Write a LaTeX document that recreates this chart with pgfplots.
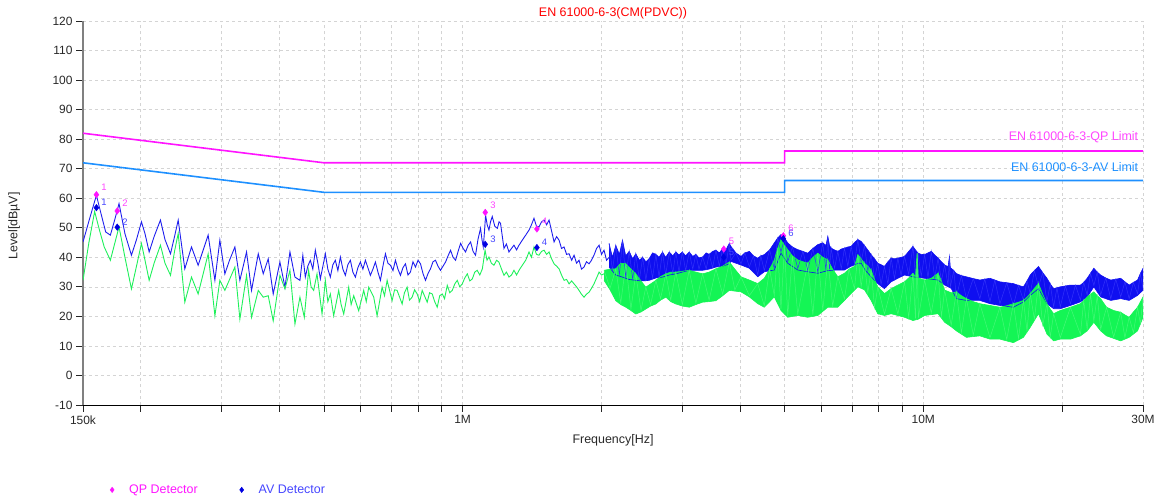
\documentclass[border=0pt]{standalone}
\usepackage{fontspec}
\setmainfont{Liberation Sans}
\usepackage{pgfplots}
\pgfplotsset{compat=1.18}
\usepgfplotslibrary{fillbetween}
\definecolor{qpc}{RGB}{255,20,255}
\definecolor{qpt}{RGB}{255,70,255}
\definecolor{avl}{RGB}{30,144,255}
\definecolor{trb}{RGB}{30,30,238}
\definecolor{trbf}{RGB}{15,15,240}
\definecolor{trbd}{RGB}{50,50,250}
\definecolor{avm}{RGB}{0,0,225}
\definecolor{avt}{RGB}{70,70,255}
\definecolor{trg}{RGB}{30,240,90}
\definecolor{trgf}{RGB}{20,245,85}
\definecolor{trgd}{RGB}{70,248,120}
\definecolor{gridc}{RGB}{212,212,212}
\definecolor{titr}{RGB}{255,0,0}
\definecolor{tl}{RGB}{40,40,40}
\begin{document}
\begin{tikzpicture}
\begin{axis}[
  at={(83bp,94bp)}, anchor=south west,
  scale only axis, width=1060bp, height=384bp,
  xmode=log, xmin=150000, xmax=30000000, ymin=-10, ymax=120,
  axis lines=left,
  x axis line style={-, black, line width=0.8bp},
  y axis line style={-, gray, line width=1.3bp},
  xtick={150000,1000000,10000000,30000000},
  xticklabels={150k,1M,10M,30M},
  minor xtick={200000,300000,400000,500000,600000,700000,800000,900000,2000000,3000000,4000000,5000000,6000000,7000000,8000000,9000000,20000000},
  ytick={-10,0,10,20,30,40,50,60,70,80,90,100,110,120},
  yticklabels={-10,0,10,20,30,40,50,60,70,80,90,100,110,120},
  grid=both,
  major grid style={gridc, dashed, line width=0.6bp},
  minor grid style={gridc, dashed, line width=0.6bp},
  tick align=outside,
  major tick length=7bp, minor tick length=7bp,
  tick style={black!85, line width=0.7bp},
  ticklabel style={font=\fontsize{12}{14}\selectfont, text=tl},
  /pgf/number format/assume math mode=true,
  title={EN 61000-6-3(CM(PDVC))},
  title style={at={(axis description cs:0.5,0.996)}, anchor=base, font=\fontsize{12.5}{14}\selectfont, text=titr},
  xlabel={Frequency[Hz]},
  xlabel style={at={(axis description cs:0.5,-0.099)}, anchor=base, font=\fontsize{12.5}{14}\selectfont, text=tl},
  ylabel={Level[dBµV]},
  ylabel style={at={(axis description cs:-0.065,0.466)}, anchor=center, font=\fontsize{12.5}{14}\selectfont, text=tl},
  legend style={at={(axis description cs:0.0226,-0.221)}, anchor=west, draw=none, fill=none,
     font=\fontsize{12.5}{14}\selectfont, legend columns=2,
     /tikz/every odd column/.append style={column sep=13bp},
     /tikz/every even column/.append style={column sep=40bp}},
  legend image post style={mark size=2.7bp},
  clip=true,
]
% limit lines
\addplot[qpc, line width=1.6bp, forget plot] coordinates {(150000,82) (500000,72) (5000000,72) (5000000,76) (30000000,76)};
\addplot[avl, line width=1.6bp, forget plot] coordinates {(150000,72) (500000,62) (5000000,62) (5000000,66) (30000000,66)};
\node[anchor=east, text=qpt, font=\fontsize{12.5}{14}\selectfont] at (axis cs:29800000,80.6) {EN 61000-6-3-QP Limit};
\node[anchor=east, text=avl, font=\fontsize{12.5}{14}\selectfont] at (axis cs:29800000,70.7) {EN 61000-6-3-AV Limit};

% blue dense band
\addplot[name path=bu, trbf, line width=0.6bp, forget plot] coordinates {
(2080000,44.7)(2115000,40)(2151000,44)(2190000,41)(2224000,45.8)(2260000,40.5)(2300000,42)(2340000,39.5)(2377000,41.2)(2420000,39)(2460000,40)(2500000,38.5)(2541000,39.5)(2585000,41.5)(2628000,41)(2670000,40)(2717000,41.8)(2760000,40)(2810000,41.8)(2860000,40.5)(2904000,41.8)(2950000,40.8)(3000000,41.8)(3050000,40.5)(3105000,41.8)(3160000,40.3)(3210000,41)(3260000,39.8)(3320000,40.1)(3380000,41.5)(3430000,41)(3490000,42)(3548000,42.4)(3610000,41.5)(3670000,43)(3730000,42.5)(3793000,44.7)(3825000,43.7)(3920000,41.5)(4022000,40.3)(4100000,41.5)(4193000,42)(4280000,40.5)(4373000,39.7)(4440000,40.5)(4518000,40.9)(4640000,42.5)(4750000,44.9)(4830000,46.5)(4911000,47.7)(5000000,46.5)(5079000,44.9)(5200000,43.5)(5340000,42.6)(5480000,42)(5614000,41.4)(5760000,43)(5904000,44.3)(6053000,44.9)(6150000,44)(6207000,47.1)(6260000,44)(6311000,43.1)(6420000,42.5)(6525000,42)(6640000,42.8)(6744000,43.1)(6860000,43.5)(6975000,43.7)(7092000,45)(7212000,46)(7332000,45.4)(7454000,44)(7580000,42.5)(7709000,40.9)(7840000,39.5)(7970000,38)(8100000,37.5)(8238000,36.9)(8380000,38.5)(8518000,39.7)(8660000,39.5)(8810000,39.7)(8950000,40)(9107000,40.3)(9300000,42)(9498000,43.7)(9620000,42.5)(9740000,41.4)(9900000,41)(10070000,40.9)(10240000,41.5)(10410000,42)(10590000,40.8)(10770000,39.7)(10950000,38.5)(11130000,37.4)(11320000,36.8)(11400000,40.3)(11450000,36.5)(11650000,35.5)(11800000,34.5)(12100000,33.8)(12410000,33.4)(12840000,32.8)(13270000,32.3)(13600000,32.6)(13960000,32.9)(14300000,32.3)(14670000,31.7)(15180000,31.4)(15690000,31.1)(16100000,30.5)(16500000,30)(16800000,32)(17070000,34)(17430000,35.5)(17790000,36.9)(18170000,34.8)(18560000,32.9)(18870000,31)(19190000,29.4)(19510000,29.7)(19840000,30)(20350000,30.3)(20870000,30.6)(21400000,30.6)(21940000,30.6)(22300000,31.5)(22690000,32.9)(23070000,34.6)(23460000,36.3)(23860000,35)(24270000,34)(24900000,33)(25530000,32.3)(26180000,32.6)(26830000,32.9)(27400000,31.7)(27990000,30.6)(28590000,31.5)(29190000,32.3)(29600000,34.5)(30000000,36.3)};
\addplot[name path=bl, trbf, line width=0.6bp, forget plot] coordinates {
(2080000,36.7)(2151000,34)(2224000,33.3)(2300000,32.5)(2377000,32.2)(2460000,32)(2541000,32.2)(2628000,33)(2717000,33.3)(2810000,34)(2904000,34.4)(3000000,35)(3105000,35.6)(3210000,35.6)(3320000,35.6)(3430000,36)(3548000,36.7)(3670000,37)(3793000,37.8)(3825000,38.6)(4022000,37.4)(4193000,36.3)(4373000,33.4)(4518000,35.1)(4750000,35.7)(4911000,41.4)(5079000,38)(5340000,35.7)(5614000,35.1)(5904000,34.6)(6207000,35.5)(6525000,35.7)(6744000,35.7)(6975000,37)(7092000,37.4)(7212000,38)(7332000,38)(7500000,35.5)(7709000,33.4)(7970000,31.1)(8238000,29.4)(8518000,31.7)(8810000,32.9)(9107000,34)(9498000,33.4)(9740000,33.2)(10070000,32.9)(10410000,32.6)(10770000,32.3)(11130000,30.6)(11500000,29.5)(11800000,26)(12410000,25.4)(13270000,25.4)(13960000,24.3)(14670000,23.7)(15690000,23.1)(16500000,24.9)(17070000,27.1)(17790000,29.4)(18560000,24.3)(19190000,22.6)(19840000,22.6)(20870000,23.7)(21940000,24.9)(22690000,26.6)(23460000,30)(24270000,26.6)(25530000,25.4)(26830000,26)(27990000,25.4)(29190000,27.1)(30000000,28.9)};
\addplot[trbf, forget plot] fill between[of=bu and bl];
\addplot[trbd, line width=0.5bp, forget plot] coordinates {
(2080000,44.7)(2115000,35.5)(2151000,44)(2190000,34)(2224000,45.8)(2260000,33.2)(2300000,42)(2340000,32.6)(2377000,41.2)(2420000,32.3)(2460000,40)(2500000,32.3)(2541000,39.5)(2585000,33)(2628000,41)(2670000,33.4)(2717000,41.8)(2760000,34)(2810000,41.8)(2860000,34.5)(2904000,41.8)(2950000,35)(3000000,41.8)(3050000,35.5)(3105000,41.8)(3160000,36)(3210000,41)(3260000,36)(3320000,40.1)(3380000,36)(3430000,41)(3490000,36.5)(3548000,42.4)(3610000,37)(3670000,43)(3730000,37.5)(3793000,44.7)(3825000,39)(3920000,41.5)(4022000,37.8)(4100000,41.5)(4193000,36.8)(4280000,40.5)(4373000,34)(4440000,40.5)(4518000,35.5)(4640000,42.5)(4750000,36.2)(4830000,46.5)(4911000,41.8)(5000000,46.5)(5079000,38.5)(5200000,43.5)(5340000,36.2)(5480000,42)(5614000,35.6)(5760000,43)(5904000,35.1)(6053000,44.9)(6150000,35.5)(6207000,47.1)(6260000,36)(6311000,43.1)(6420000,36.2)(6525000,42)(6640000,36.2)(6744000,43.1)(6860000,37)(6975000,43.7)(7092000,37.9)(7212000,46)(7332000,38.5)(7454000,44)(7580000,35.5)(7709000,40.9)(7840000,32.8)(7970000,38)(8100000,30.8)(8238000,36.9)(8380000,31)(8518000,39.7)(8660000,32.8)(8810000,39.7)(8950000,33.8)(9107000,40.3)(9300000,34.2)(9498000,43.7)(9620000,33.8)(9740000,41.4)(9900000,33.6)(10070000,40.9)(10240000,33.2)(10410000,42)(10590000,33)(10770000,39.7)(10950000,32)(11130000,37.4)(11320000,30.5)(11400000,40.3)(11450000,30)(11650000,35.5)(11800000,26.5)(12100000,33.8)(12410000,26)(12840000,32.8)(13270000,26)(13600000,32.6)(13960000,25)(14300000,32.3)(14670000,24.3)(15180000,31.4)(15690000,23.7)(16100000,30.5)(16500000,25.5)(16800000,32)(17070000,27.7)(17430000,35.5)(17790000,30)(18170000,34.8)(18560000,25)(18870000,31)(19190000,23.2)(19510000,29.7)(19840000,23.2)(20350000,30.3)(20870000,24.3)(21400000,30.6)(21940000,25.5)(22300000,31.5)(22690000,27.2)(23070000,34.6)(23460000,30.5)(23860000,35)(24270000,27.2)(24900000,33)(25530000,26)(26180000,32.6)(26830000,26.6)(27400000,31.7)(27990000,26)(28590000,31.5)(29190000,27.7)(29600000,34.5)(30000000,29.5)};

% blue sparse trace
\addplot[trb, line width=0.9bp, forget plot] coordinates {
(150000,45.2)(155000,53)(160400,61)(164000,55)(168000,48.6)(172000,47.5)(176000,53)(179600,58.2)(185000,48)(191100,40.7)(196000,46)(200900,52)(204500,48)(208800,41.8)(214000,47)(220900,52.6)(226000,46)(232300,41.2)(237000,47)(241400,52.6)(249500,36.1)(258000,43.5)(266700,37.3)(280400,47.5)(290000,32.2)(297300,45.8)(304800,34.4)(312000,39)(320500,43.5)(328600,32.2)(339700,41.8)(348300,28.8)(360200,41.2)(369300,34.4)(378600,39.5)(388200,27.6)(401400,38.4)(411600,29.9)(422000,41.8)(432700,33.3)(443600,32.2)
(450100,40.7)(455700,33.3)(461400,37)(467200,39)(473100,36)(479100,42.4)(485200,38)(491300,32.7)(497500,37)(503700,41.2)(510000,36)(516400,33.3)(523000,37.5)(529500,39)(536200,35.5)(543000,40.1)(549800,36)(556700,33.9)(563700,37.5)(570800,39)(578000,35)(585300,33.3)(592700,36.5)(600100,38.4)(607700,36)(615300,39)(623100,36.5)(630900,33.9)(638900,36)(646900,38.4)(655100,35)(663300,32.2)(671700,37)(680100,41.2)(688700,38)(697400,37.3)(706200,35.5)(715000,39)(724100,36)(733200,33.9)(742500,36.5)(751800,37.8)(761300,34)(770800,35)(780600,38.5)(790400,36.7)(800400,39)(810400,37.8)(820600,34.5)(830900,32.2)(841400,34.5)(851900,36.1)(862700,38.5)(873500,39)(884500,37)(895600,35.6)(907000,37)(918500,38.4)(930100,40.5)(941800,42.4)(953700,40)(965700,39)(978000,42)(990200,44.7)(1003000,43)(1015000,41.8)(1028000,44)(1041000,45.2)(1054000,42)(1067000,40.7)(1080000,46)(1094000,49.8)(1102000,46)(1109000,43.5)(1115000,48)(1122000,54.3)(1131000,51)(1141000,49.2)(1150000,52)(1160000,53.8)(1175000,50.5)(1190000,49.8)(1200000,52)(1209000,51.5)(1220000,47)(1230000,43)(1245000,44.5)(1261000,41.8)(1277000,43)(1293000,44.1)(1310000,42.5)(1326000,44.1)
(1348000,45.8)(1371000,47.5)(1394000,49.2)(1411000,51)(1429000,53.2)(1447000,50.5)(1465000,50.3)(1484000,52)(1503000,52.6)(1522000,51)(1541000,52.6)(1560000,49)(1580000,45.2)(1600000,47)(1620000,45.8)(1640000,43)(1661000,43.5)(1682000,41)(1703000,41.2)(1725000,39)(1746000,40.7)(1768000,38)(1790000,39)(1812000,36)(1835000,36.7)(1858000,38.5)(1882000,37.8)(1905000,39)(1929000,40.7)(1954000,43)(1979000,44.1)(2003000,41)(2028000,42.4)(2054000,39)(2080000,40)};

% green dense band
\addplot[name path=gu, trgf, line width=0.6bp, forget plot] coordinates {
(2028000,35.6)(2090000,36)(2151000,36.1)(2205000,38)(2262000,37.8)(2320000,36)(2377000,34.4)(2440000,32)(2499000,29.9)(2560000,31)(2628000,32.2)(2690000,33.5)(2763000,34.4)(2830000,35)(2904000,35)(3000000,35.3)(3105000,35.6)(3210000,35)(3320000,34.4)(3430000,35)(3548000,36.1)(3670000,37)(3793000,38.4)(3900000,36)(4022000,33.4)(4193000,32.3)(4373000,31.1)(4518000,32.9)(4640000,36)(4750000,39.1)(4830000,43)(4911000,46)(5000000,44)(5079000,42.6)(5200000,40.5)(5340000,39.1)(5614000,38)(5760000,40)(5904000,41.4)(6053000,40)(6207000,39.1)(6360000,36)(6525000,33.4)(6744000,34.6)(6900000,36)(7092000,36.9)(7212000,40.9)(7332000,39.5)(7454000,38)(7580000,37)(7709000,35.7)(7840000,32.5)(7970000,30)(8238000,27.7)(8518000,29.4)(8810000,30.6)(9107000,31.7)(9300000,33)(9498000,34.6)(9620000,33.5)(9700000,41.4)(9760000,33)(10070000,32.3)(10410000,32.9)(10770000,34.6)(10950000,32)(11130000,28.9)(11500000,28)(11800000,28.3)(12100000,27)(12410000,26)(12840000,25)(13270000,24.3)(13960000,23.7)(14670000,23.1)(15180000,23.6)(15690000,24.3)(16100000,24.8)(16500000,25.4)(16800000,26.5)(17070000,27.7)(17430000,29.5)(17790000,31.1)(18170000,27.5)(18560000,24.3)(18870000,22.5)(19190000,20.9)(19840000,22)(20870000,23.1)(21940000,24.3)(22300000,25.3)(22690000,26.6)(23070000,27.5)(23460000,28.3)(23860000,27)(24270000,26)(25000000,23.1)(25900000,22)(26830000,21.4)(27400000,20.5)(27990000,19.7)(28590000,21.5)(29190000,23.1)(30000000,26.6)};
\addplot[name path=gl, trgf, line width=0.6bp, forget plot] coordinates {
(2028000,32.2)(2090000,29)(2151000,25.3)(2205000,24)(2262000,23.1)(2320000,22)(2377000,20.8)(2440000,21.5)(2499000,22.5)(2560000,23.5)(2628000,24.2)(2690000,25.5)(2763000,26.5)(2830000,25)(2904000,24.2)(3000000,23.5)(3105000,23.1)(3210000,24)(3320000,24.8)(3430000,25)(3548000,25.3)(3670000,27)(3793000,28.8)(4022000,28.3)(4193000,26.6)(4373000,24.3)(4518000,23.1)(4750000,26.6)(4911000,22)(5079000,19.7)(5340000,20.3)(5614000,19.7)(5904000,20.3)(6207000,23.1)(6525000,23.1)(6744000,25.4)(7092000,28.9)(7212000,30)(7454000,29)(7709000,25.4)(7970000,20.9)(8238000,20.3)(8518000,20.9)(8810000,20.3)(9107000,19.7)(9498000,18.6)(9740000,19)(10070000,20.3)(10410000,20.6)(10770000,20.9)(11130000,18)(11500000,16.5)(11800000,15.1)(12410000,12.9)(13270000,13.4)(13960000,12.3)(14670000,12.3)(15690000,11.1)(16500000,12.9)(17070000,16.3)(17790000,20.9)(18560000,14)(19190000,11.7)(19840000,12.3)(20870000,12.3)(21940000,13.4)(22690000,15.1)(23460000,18)(24270000,15.1)(25000000,13.4)(26830000,11.7)(27990000,12.9)(29190000,15.1)(30000000,19.7)};
\addplot[trgf, forget plot] fill between[of=gu and gl];
\addplot[trgd, line width=0.5bp, forget plot] coordinates {
(2028000,35.6)(2090000,29.5)(2151000,36.1)(2205000,24.5)(2262000,37.8)(2320000,22.5)(2377000,34.4)(2440000,22)(2499000,29.9)(2560000,24)(2628000,32.2)(2690000,26)(2763000,34.4)(2830000,25.5)(2904000,35)(3000000,24)(3105000,35.6)(3210000,24.5)(3320000,34.4)(3430000,25.5)(3548000,36.1)(3670000,27.5)(3793000,38.4)(3900000,29)(4022000,33.4)(4193000,27)(4373000,31.1)(4518000,23.6)(4640000,36)(4750000,27)(4830000,43)(4911000,22.5)(5000000,44)(5079000,20.2)(5200000,40.5)(5340000,20.8)(5614000,38)(5760000,20.5)(5904000,41.4)(6053000,22)(6207000,39.1)(6360000,23.5)(6525000,33.4)(6744000,25.9)(6900000,36)(7092000,29.4)(7212000,40.9)(7332000,30)(7454000,38)(7580000,28)(7709000,35.7)(7840000,23)(7970000,30)(8238000,20.8)(8518000,29.4)(8810000,20.8)(9107000,31.7)(9300000,19.6)(9498000,34.6)(9620000,19.3)(9700000,41.4)(9760000,19.5)(10070000,32.3)(10410000,21.1)(10770000,34.6)(10950000,20)(11130000,28.9)(11500000,17)(11800000,28.3)(12100000,14.5)(12410000,26)(12840000,13.7)(13270000,24.3)(13960000,12.8)(14670000,23.1)(15180000,12.2)(15690000,24.3)(16100000,12.5)(16500000,25.4)(16800000,15)(17070000,27.7)(17430000,19)(17790000,31.1)(18170000,17)(18560000,24.3)(18870000,13)(19190000,20.9)(19840000,12.8)(20870000,23.1)(21940000,13.9)(22300000,25.3)(22690000,15.6)(23070000,27.5)(23460000,18.5)(23860000,27)(24270000,15.6)(25000000,23.1)(25900000,13)(26830000,21.4)(27400000,12.8)(27990000,19.7)(28590000,14.5)(29190000,23.1)(29600000,17.5)(30000000,26.6)};

% green sparse trace
\addplot[trg, line width=0.9bp, forget plot] coordinates {
(150000,32.2)(154500,45)(159000,55.5)(163000,49)(166800,43.5)(172000,39)(176000,45)(179600,50.3)(185000,40)(191100,29.3)(196000,37)(200900,44.7)(204500,39)(208800,32.2)(214000,38)(220900,44.1)(226000,38)(232300,33.9)(237000,42)(241400,48.1)(249500,24.8)(258000,33.3)(266700,27.6)(280400,41.2)(290000,20.2)(297300,32.2)(304800,28.8)(320500,36.7)(328600,19.1)(339700,33.9)(348300,19.7)(360200,28.8)(369300,26.5)(378600,27)(388200,18.5)(401400,33.9)(411600,29.3)(422000,35.6)(432700,17.4)(443600,26.5)
(453400,19.7)(463300,35.6)(469000,30)(475100,28.8)(483100,34.4)(495400,20.8)(503700,32.2)(510000,25)(516400,27.6)(525100,20.2)(538400,28.8)(545000,24)(552100,20.8)(566100,29.9)(573000,24)(580400,27)(595100,21.9)(610200,28.8)(618000,25)(625700,29.9)(641500,26.5)(652400,20.2)(668900,29.9)(677000,27)(685900,32.2)(703200,25.3)(712000,29)(721000,28.8)(739400,24.2)(748000,28)(758100,29.9)(767000,25.5)(777300,26.5)(787000,29)(797100,27.6)(807000,25)(817300,28.8)(838000,24.8)(848000,28)(859300,27.6)(870000,25)(881100,23.1)(892000,27)(903400,27.6)(914000,26)(926300,30.5)(938000,28)(949800,28.8)(962000,31)(973900,32.2)(986000,30)(998500,31)(1011000,33)(1024000,34.4)(1037000,32)(1050000,32.7)(1063000,35)(1076000,35.6)(1090000,34)(1104000,36.1)(1119000,42.4)(1130000,39)(1141000,40.1)(1155000,38)(1170000,37.3)(1185000,39)(1199000,38.4)(1215000,36)(1230000,33.9)(1245000,35)(1261000,33.3)(1277000,34)(1293000,35.6)(1310000,34)(1326000,35.6)
(1348000,37.3)(1371000,39)(1394000,41.8)(1411000,40)(1429000,43.5)(1447000,41)(1465000,40.7)(1484000,42)(1503000,42.4)(1522000,41)(1541000,41.8)(1560000,39.5)(1580000,37.8)(1600000,37)(1620000,36.1)(1640000,34)(1661000,32.2)(1682000,32.5)(1703000,31)(1725000,32)(1746000,31)(1768000,30)(1790000,28.8)(1812000,27.5)(1835000,26.5)(1858000,27.5)(1882000,28.2)(1905000,29.5)(1929000,31)(1954000,33)(1979000,35)(2003000,34)(2028000,34.4)};

% detector markers
\addplot[only marks, mark=diamond*, mark size=3.3bp, color=qpc,
  nodes near coords, point meta=explicit symbolic,
  every node near coord/.append style={anchor=south west, xshift=1.5bp, yshift=0.5bp, font=\fontsize{9.5}{10}\selectfont, text=qpt}]
  coordinates {(160400,61.2)[1] (178000,55.7)[2] (1120000,55.2)[3] (1450000,49.6)[4] (3690000,42.8)[5] (4970000,47.3)[6]};
\addlegendentry{\textcolor{qpc}{QP Detector}}
\addplot[only marks, mark=diamond*, mark size=3.3bp, color=avm,
  nodes near coords, point meta=explicit symbolic,
  every node near coord/.append style={anchor=south west, xshift=1.5bp, yshift=-1.5bp, font=\fontsize{9.5}{10}\selectfont, text=avt}]
  coordinates {(160400,56.8)[1] (178000,50.2)[2] (1120000,44.4)[3] (1450000,43.3)[4] (3690000,40.0)[5] (4970000,46.3)[6]};
\addlegendentry{\textcolor{avt}{AV Detector}}
\end{axis}
\pgfresetboundingbox
\useasboundingbox (0,0) rectangle (1163bp,499bp);
\end{tikzpicture}
\end{document}
